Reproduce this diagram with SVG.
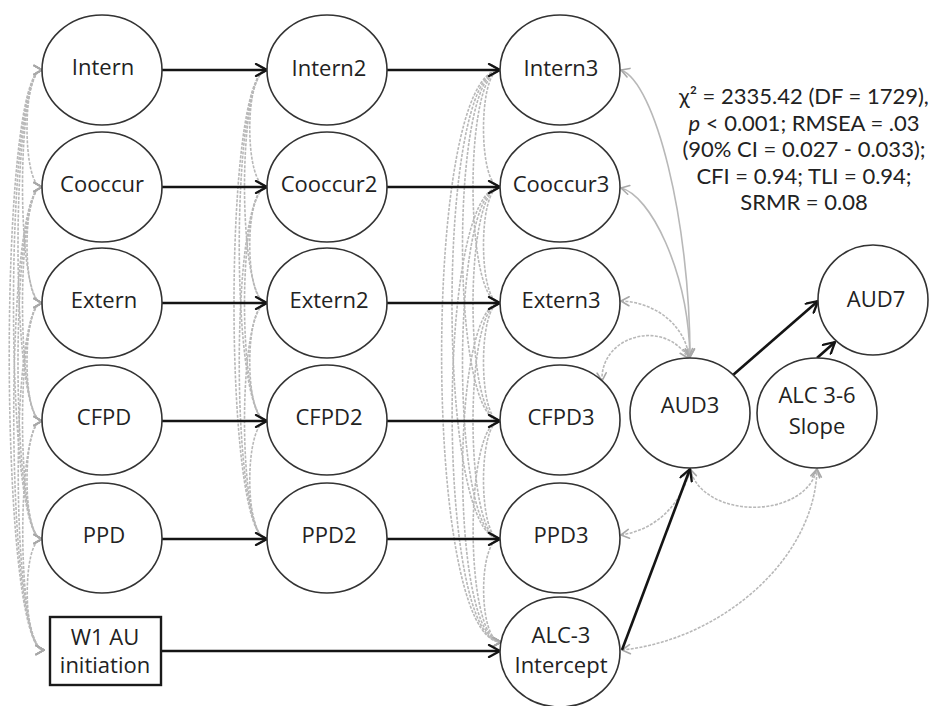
<svg xmlns="http://www.w3.org/2000/svg" width="929" height="706" viewBox="0 0 929 706">
  <style>
    .node ellipse { fill: #ffffff; stroke: #333333; stroke-width: 1.6; }
    .node rect { fill: #ffffff; stroke: #1a1a1a; stroke-width: 2.4; }
    .lbl { font-family: "Open Sans", "Liberation Sans", sans-serif; font-size: 22px; fill: #222222; text-anchor: middle; }
    .stats { font-family: Lato, "Open Sans", sans-serif; font-size: 22px; fill: #222222; text-anchor: middle; }
    .path { fill: none; stroke: #141414; stroke-width: 2.6; marker-end: url(#ah); }
    .cov { fill: none; stroke: #b8b8b8; stroke-width: 1.6; stroke-dasharray: 3 1.4; marker-start: url(#gh); marker-end: url(#gh); }
    .cov.solid { stroke-dasharray: none; }
  </style>
  <defs>
    <marker id="ah" viewBox="-13 -7 14 14" refX="0" refY="0" markerWidth="14" markerHeight="14" orient="auto" markerUnits="userSpaceOnUse">
      <path d="M-11,-6 L0,0 L-11,6" fill="none" stroke="#141414" stroke-width="2.3" stroke-linejoin="round" stroke-linecap="round"/>
    </marker>
    <marker id="gh" viewBox="-11 -6 12 12" refX="0" refY="0" markerWidth="12" markerHeight="12" orient="auto-start-reverse" markerUnits="userSpaceOnUse">
      <path d="M-8,-4.5 L0,0 L-8,4.5" fill="none" stroke="#a8a8a8" stroke-width="1.6" stroke-linejoin="round" stroke-linecap="round"/>
    </marker>
  </defs>

  <!-- connectors -->
  <g id="connectors">
    <!-- wave-1 covariances -->
    <path class="cov" d="M42 70 C22 70 22 187 42 187"/>
    <path class="cov" d="M42 70 C16 70 16 303 42 303"/>
    <path class="cov" d="M42 70 C10 70 10 421 42 421"/>
    <path class="cov" d="M42 70 C4 70 4 539 42 539"/>
    <path class="cov" d="M42 70 C-2 70 -2 650 44 650"/>
    <path class="cov" d="M42 187 C22 187 22 303 42 303"/>
    <path class="cov" d="M42 187 C16 187 16 421 42 421"/>
    <path class="cov" d="M42 187 C10 187 10 539 42 539"/>
    <path class="cov" d="M42 187 C4 187 4 650 44 650"/>
    <path class="cov" d="M42 303 C22 303 22 421 42 421"/>
    <path class="cov" d="M42 303 C16 303 16 539 42 539"/>
    <path class="cov" d="M42 303 C10 303 10 650 44 650"/>
    <path class="cov" d="M42 421 C22 421 22 539 42 539"/>
    <path class="cov" d="M42 421 C16 421 16 650 44 650"/>
    <path class="cov" d="M42 539 C22 539 22 650 44 650"/>

    <!-- wave-2 residual covariances -->
    <path class="cov" d="M267 70 C244 70 244 187 267 187"/>
    <path class="cov" d="M267 70 C237 70 237 303 267 303"/>
    <path class="cov" d="M267 70 C230 70 230 421 267 421"/>
    <path class="cov" d="M267 70 C223 70 223 539 267 539"/>
    <path class="cov" d="M267 187 C244 187 244 303 267 303"/>
    <path class="cov" d="M267 187 C237 187 237 421 267 421"/>
    <path class="cov" d="M267 187 C230 187 230 539 267 539"/>
    <path class="cov" d="M267 303 C244 303 244 421 267 421"/>
    <path class="cov" d="M267 303 C237 303 237 539 267 539"/>
    <path class="cov" d="M267 421 C244 421 244 539 267 539"/>

    <!-- wave-3 residual covariances with the intercept -->
    <path class="cov" d="M500 70 C478 70 478 187 500 187"/>
    <path class="cov" d="M500 70 C464 70 464 303 500 303"/>
    <path class="cov" d="M500 70 C450 70 450 421 500 421"/>
    <path class="cov" d="M500 70 C436 70 436 539 500 539"/>
    <path class="cov" d="M500 70 C422 70 422 642 501 642"/>
    <path class="cov" d="M500 187 C478 187 478 303 500 303"/>
    <path class="cov" d="M500 187 C464 187 464 421 500 421"/>
    <path class="cov" d="M500 187 C450 187 450 539 500 539"/>
    <path class="cov" d="M500 187 C436 187 436 642 501 642"/>
    <path class="cov" d="M500 303 C478 303 478 421 500 421"/>
    <path class="cov" d="M500 303 C464 303 464 539 500 539"/>
    <path class="cov" d="M500 303 C450 303 450 642 501 642"/>
    <path class="cov" d="M500 421 C478 421 478 539 500 539"/>
    <path class="cov" d="M500 421 C464 421 464 642 501 642"/>
    <path class="cov" d="M500 539 C478 539 478 642 501 642"/>

    <!-- AUD3 covariances -->
    <path class="cov solid" d="M621 70 C655 82 690 220 690 357"/>
    <path class="cov solid" d="M621 188 C650 195 688 270 690 357"/>
    <path class="cov" d="M621 301 C655 302 685 325 689 357"/>
    <path class="cov" d="M602 381 C600 335 665 318 688 358"/>
    <path class="cov" d="M621 535 C655 530 682 505 690 469"/>
    <path class="cov" d="M690 469 C703 520 805 520 817 469"/>
    <path class="cov" d="M622 650 C720 640 815 560 817 469"/>

    <!-- regression paths -->
    <path class="path" d="M162 70 L267 70"/>
    <path class="path" d="M162 187 L267 187"/>
    <path class="path" d="M162 303 L267 303"/>
    <path class="path" d="M162 421 L267 421"/>
    <path class="path" d="M162 539 L267 539"/>
    <path class="path" d="M387 70 L500 70"/>
    <path class="path" d="M387 187 L500 187"/>
    <path class="path" d="M387 303 L500 303"/>
    <path class="path" d="M387 421 L500 421"/>
    <path class="path" d="M387 539 L500 539"/>
    <path class="path" d="M161 651 L500 651"/>
    <path class="path" d="M622 650 L690 469"/>
    <path class="path" d="M733 375 L818 301"/>
    <path class="path" d="M817 358 L835 342"/>
  </g>

  <!-- wave 1 -->
  <g id="intern" class="node"><ellipse cx="102" cy="70" rx="60" ry="55"/><text class="lbl" x="103" y="75">Intern</text></g>
  <g id="cooccur" class="node"><ellipse cx="102" cy="187" rx="60" ry="55"/><text class="lbl" x="102" y="192">Cooccur</text></g>
  <g id="extern" class="node"><ellipse cx="102" cy="303" rx="60" ry="55"/><text class="lbl" x="104" y="308">Extern</text></g>
  <g id="cfpd" class="node"><ellipse cx="102" cy="420" rx="60" ry="55"/><text class="lbl" x="104" y="425">CFPD</text></g>
  <g id="ppd" class="node"><ellipse cx="102" cy="538" rx="60" ry="55"/><text class="lbl" x="104" y="543">PPD</text></g>
  <g id="w1-au" class="node"><rect x="50" y="617" width="111" height="68"/><text class="lbl" x="105" y="645">W1 AU</text><text class="lbl" x="105" y="673">initiation</text></g>

  <!-- wave 2 -->
  <g id="intern2" class="node"><ellipse cx="327" cy="70" rx="60" ry="55"/><text class="lbl" x="329" y="76">Intern2</text></g>
  <g id="cooccur2" class="node"><ellipse cx="327" cy="187" rx="60" ry="55"/><text class="lbl" x="329" y="192">Cooccur2</text></g>
  <g id="extern2" class="node"><ellipse cx="327" cy="303" rx="60" ry="55"/><text class="lbl" x="329" y="308">Extern2</text></g>
  <g id="cfpd2" class="node"><ellipse cx="327" cy="420" rx="60" ry="55"/><text class="lbl" x="329" y="425">CFPD2</text></g>
  <g id="ppd2" class="node"><ellipse cx="327" cy="538" rx="60" ry="55"/><text class="lbl" x="329" y="543">PPD2</text></g>

  <!-- wave 3 -->
  <g id="intern3" class="node"><ellipse cx="560" cy="70" rx="60" ry="55"/><text class="lbl" x="561" y="76">Intern3</text></g>
  <g id="cooccur3" class="node"><ellipse cx="560" cy="187" rx="60" ry="55"/><text class="lbl" x="561" y="192">Cooccur3</text></g>
  <g id="extern3" class="node"><ellipse cx="560" cy="303" rx="60" ry="55"/><text class="lbl" x="561" y="308">Extern3</text></g>
  <g id="cfpd3" class="node"><ellipse cx="560" cy="420" rx="60" ry="55"/><text class="lbl" x="561" y="425">CFPD3</text></g>
  <g id="ppd3" class="node"><ellipse cx="560" cy="538" rx="60" ry="55"/><text class="lbl" x="561" y="543">PPD3</text></g>
  <g id="alc3-intercept" class="node"><ellipse cx="560" cy="652" rx="60" ry="55"/><text class="lbl" x="561" y="643">ALC-3</text><text class="lbl" x="561" y="673">Intercept</text></g>

  <!-- outcomes -->
  <g id="aud3" class="node"><ellipse cx="690" cy="413" rx="60" ry="55"/><text class="lbl" x="690" y="413">AUD3</text></g>
  <g id="alc-slope" class="node"><ellipse cx="817" cy="413" rx="60" ry="55"/><text class="lbl" x="817" y="403">ALC 3-6</text><text class="lbl" x="817" y="434">Slope</text></g>
  <g id="aud7" class="node"><ellipse cx="873" cy="300" rx="55" ry="55"/><text class="lbl" x="876" y="307">AUD7</text></g>

  <!-- fit statistics -->
  <g id="fit">
    <text class="stats" x="804" y="104">χ² = 2335.42 (DF = 1729),</text>
    <text class="stats" x="804" y="130.5"><tspan font-style="italic">p</tspan> &lt; 0.001; RMSEA = .03</text>
    <text class="stats" x="804" y="157">(90% CI = 0.027 - 0.033);</text>
    <text class="stats" x="804" y="183.5">CFI = 0.94; TLI = 0.94;</text>
    <text class="stats" x="804" y="210">SRMR = 0.08</text>
  </g>
</svg>
